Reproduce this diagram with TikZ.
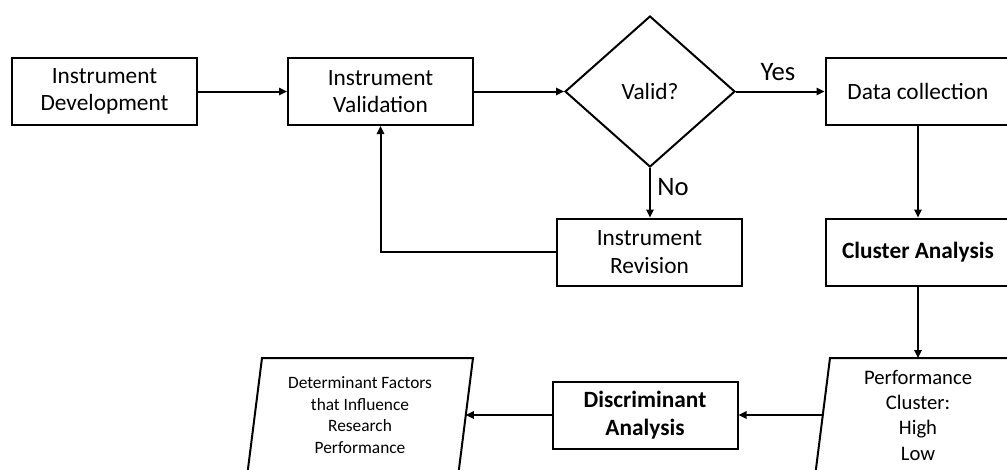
\documentclass[tikz,border=0pt]{standalone}
\usepackage{fontspec}
\setmainfont{Carlito}
\usetikzlibrary{shapes.geometric,arrows.meta}
\begin{document}
\begin{tikzpicture}[x=0.75pt,y=-0.75pt,
  line width=1.5pt,
  box/.style={draw, minimum width=185*0.75pt, minimum height=67*0.75pt, inner sep=0pt, align=center, font=\fontsize{17.5}{20.5}\selectfont},
  lbl/.style={font=\fontsize{20}{24}\selectfont, inner sep=0pt},
  txt/.style={align=center, inner sep=0pt},
  arr/.style={-{Triangle[length=6pt,width=5.5pt]}},
]
\clip (0,0) rectangle (1007,469);
% top row
\node[box] (dev) at (104.5,91.5) {Instrument\\Development};
\node[box] (val) at (380.5,91.5) {Instrument\\Validation};
\node[draw, diamond, minimum width=170*0.75pt, minimum height=151*0.75pt, inner sep=0pt, font=\fontsize{17.5}{20.5}\selectfont] (dia) at (650,91.5) {Valid?};
\node[box] (data) at (918,91.5) {Data collection};
% middle row
\node[box] (rev) at (649.5,252) {Instrument\\Revision};
\node[box, font=\fontsize{17.5}{20.5}\selectfont\bfseries] (clu) at (918,252) {Cluster Analysis};
% bottom row
\node[box, font=\fontsize{17.5}{20.5}\selectfont\bfseries] (dis) at (645,415) {Discriminant\\Analysis};
\draw (262,358) -- (473,358) -- (458.6,472) -- (247.6,472) -- cycle;
\node[txt, font=\fontsize{13}{16.3}\selectfont] (det) at (360,415) {Determinant Factors\\that Influence\\Research\\Performance};
\coordinate (detin) at (465.8,415);
\draw (830,358) -- (1041,358) -- (1026.6,472) -- (815.6,472) -- cycle;
\node[txt, font=\fontsize{15.5}{19}\selectfont] (perf) at (918,415) {Performance\\Cluster:\\High\\Low};
\coordinate (perftop) at (918,358);
\coordinate (perfout) at (822.8,415);
% labels
\node[lbl] (yes) at (778,72) {Yes};
\node[lbl] (no) at (673,187) {No};
% connectors
\draw[arr] (dev) -- (val);
\draw[arr] (val) -- (dia);
\draw[arr] (dia) -- (data);
\draw[arr] (dia.south) -- (dia.south |- rev.north);
\draw[arr] (rev.west) -| (val.south);
\draw[arr] (data) -- (clu);
\draw[arr] (clu.south) -- (perftop);
\draw[arr] (perfout) -- (dis);
\draw[arr] (dis) -- (detin);
\end{tikzpicture}
\end{document}
